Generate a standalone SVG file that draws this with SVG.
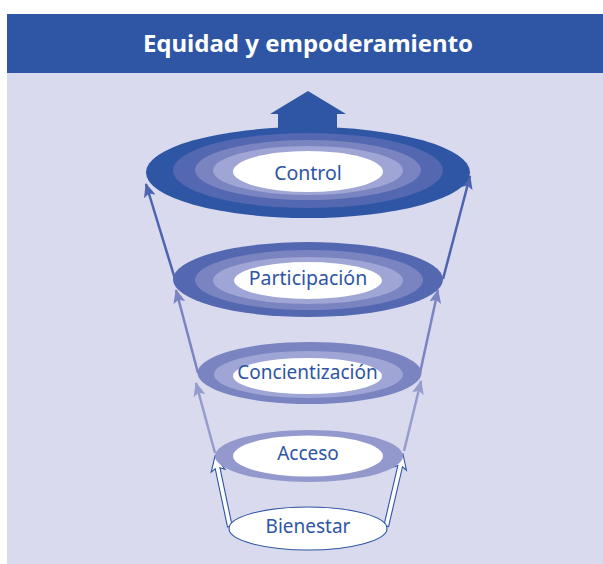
<svg xmlns="http://www.w3.org/2000/svg" width="603" height="564" viewBox="0 0 603 564">
<defs>
<style>
.lbl{font-family:"Noto Sans","Open Sans",sans-serif;font-size:19.5px;fill:#2e55a4;text-anchor:middle}
.sm{font-size:19px}
.title{font-family:"Noto Sans","Open Sans",sans-serif;font-size:24px;font-weight:bold;fill:#ffffff;text-anchor:middle}
.c1{fill:#2e56a5}.c2{fill:#5467b1}.c3{fill:#7a84c1}.c4{fill:#9fa5d4}.w{fill:#ffffff}
.l1{stroke:#4d64b0;stroke-width:2.5;fill:none}
.l2{stroke:#7a84c1;stroke-width:2.5;fill:none}
.l3{stroke:#969cce;stroke-width:2.5;fill:none}
.hollow{fill:#ffffff;stroke:#2e55a4;stroke-width:1.1;stroke-linejoin:miter}
</style>
<marker id="m1" viewBox="0 0 14 12" refX="13" refY="6" markerWidth="14" markerHeight="12" markerUnits="userSpaceOnUse" orient="auto"><path d="M0,0 L14,6 L0,12 L3,6 Z" fill="#4d64b0"/></marker>
<marker id="m2" viewBox="0 0 14 12" refX="13" refY="6" markerWidth="14" markerHeight="12" markerUnits="userSpaceOnUse" orient="auto"><path d="M0,0 L14,6 L0,12 L3,6 Z" fill="#7a84c1"/></marker>
<marker id="m3" viewBox="0 0 14 12" refX="13" refY="6" markerWidth="14" markerHeight="12" markerUnits="userSpaceOnUse" orient="auto"><path d="M0,0 L14,6 L0,12 L3,6 Z" fill="#969cce"/></marker>
</defs>
<rect x="7" y="73" width="596" height="491" fill="#d9daee"/>
<g id="header">
<rect x="7" y="14" width="596" height="59" fill="#2e56a5"/>
<text class="title" x="308" y="52">Equidad y empoderamiento</text>
</g>
<g id="connectors">
<line class="l1" x1="175" y1="279" x2="146" y2="184" marker-end="url(#m1)"/>
<line class="l1" x1="443" y1="279" x2="470" y2="176" marker-end="url(#m1)"/>
<line class="l2" x1="198" y1="373" x2="176" y2="290" marker-end="url(#m2)"/>
<line class="l2" x1="420" y1="373" x2="438" y2="290" marker-end="url(#m2)"/>
<line class="l3" x1="215" y1="453" x2="196" y2="383" marker-end="url(#m3)"/>
<line class="l3" x1="404" y1="451" x2="421" y2="381" marker-end="url(#m3)"/>
<path class="hollow" transform="translate(215,456) rotate(-11.9)" d="M0,0 L7,15 L2.4,12.5 L2.4,72 L-2.4,72 L-2.4,12.5 L-7,15 Z"/>
<path class="hollow" transform="translate(403,454) rotate(13.1)" d="M0,0 L7,15 L2.4,12.5 L2.4,74 L-2.4,74 L-2.4,12.5 L-7,15 Z"/>
</g>
<g id="top-arrow">
<path class="c1" d="M308,91 L346,114 L337,114 L337,150 L278,150 L278,114 L270,114 Z"/>
</g>
<g id="control">
<ellipse class="c1" cx="308" cy="172.5" rx="162" ry="45.5"/>
<ellipse class="c2" cx="308" cy="170.5" rx="135" ry="37.5"/>
<ellipse class="c3" cx="308" cy="170" rx="113" ry="30"/>
<ellipse class="c4" cx="308" cy="170.5" rx="95" ry="24.5"/>
<ellipse class="w" cx="308" cy="171.5" rx="75" ry="20.5"/>
<text class="lbl" x="308" y="180">Control</text>
</g>
<g id="participacion">
<ellipse class="c2" cx="308" cy="279.5" rx="135" ry="37.5"/>
<ellipse class="c3" cx="309" cy="280" rx="114" ry="30"/>
<ellipse class="c4" cx="308" cy="280.5" rx="95" ry="23.5"/>
<ellipse class="w" cx="308" cy="280.5" rx="74" ry="18.5"/>
<text class="lbl" x="308" y="285">Participación</text>
</g>
<g id="concientizacion">
<ellipse class="c3" cx="309.5" cy="373" rx="112" ry="31"/>
<ellipse class="c4" cx="308.5" cy="374.5" rx="94.5" ry="23.5"/>
<ellipse class="w" cx="307.5" cy="376" rx="74.5" ry="18"/>
<text class="lbl sm" x="307.5" y="379">Concientización</text>
</g>
<g id="acceso">
<ellipse cx="309" cy="456" rx="94" ry="26" fill="#9399cd"/>
<ellipse class="w" cx="308" cy="456" rx="75" ry="20.5"/>
<text class="lbl sm" x="308" y="460">Acceso</text>
</g>
<g id="bienestar">
<ellipse cx="308" cy="528.5" rx="79" ry="21.5" fill="#ffffff" stroke="#2e55a4" stroke-width="1.1"/>
<text class="lbl sm" x="308" y="533">Bienestar</text>
</g>
</svg>
